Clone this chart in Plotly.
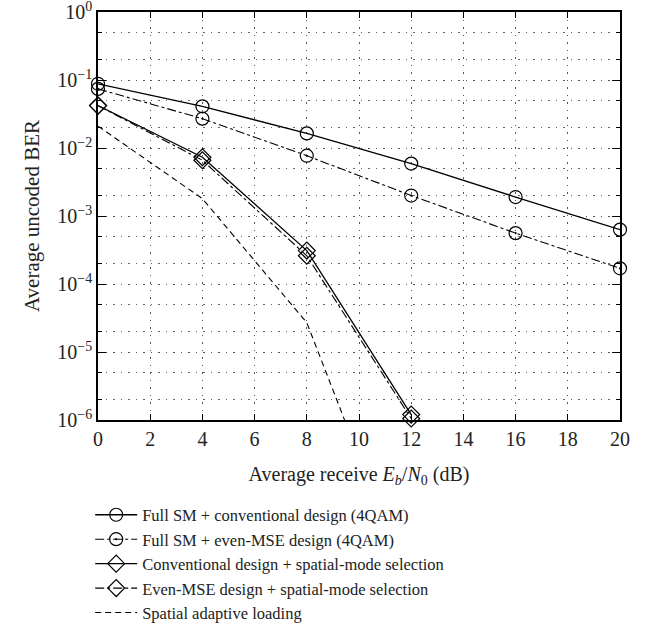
import plotly.graph_objects as go

snr_db = [0, 4, 8, 12, 16, 20]
ber_full_conv = [0.088, 0.041, 0.0164, 0.0059, 0.0019, 0.00063]
ber_full_even = [0.074, 0.027, 0.0077, 0.0020, 0.00056, 0.00017]
snr_sel = [0, 4, 8, 12]
ber_conv_sel = [0.042, 0.0073, 0.00031, 1.2e-6]
ber_even_sel = [0.042, 0.0066, 0.00026, 1.05e-6]
snr_adapt = [0, 4, 8, 12]
ber_adapt = [0.021, 0.0018, 2.7e-5, 3e-9]

names = [
    "Full SM + conventional design (4QAM)",
    "Full SM + even-MSE design (4QAM)",
    "Conventional design + spatial-mode selection",
    "Even-MSE design + spatial-mode selection",
    "Spatial adaptive loading",
]

ytick_vals = [1, 1e-1, 1e-2, 1e-3, 1e-4, 1e-5, 1e-6]
ytick_text = ["10<sup>0</sup>", "10<sup>−1</sup>", "10<sup>−2</sup>", "10<sup>−3</sup>",
              "10<sup>−4</sup>", "10<sup>−5</sup>", "10<sup>−6</sup>"]
xtick_vals = list(range(0, 21, 2))

FONT = "Liberation Serif"
GRID = "1.5px,6px"
fig = go.Figure()
fig.add_trace(go.Scatter(x=snr_db, y=ber_full_conv, name=names[0], mode="lines+markers",
                         line=dict(color="black", width=1.3),
                         marker=dict(symbol="circle-open", size=13, color="black", line=dict(width=1.2)),
                         cliponaxis=False))
fig.add_trace(go.Scatter(x=snr_db, y=ber_full_even, name=names[1], mode="lines+markers",
                         line=dict(color="black", width=1.1, dash="dashdot"),
                         marker=dict(symbol="circle-open-dot", size=13, color="black", line=dict(width=1.2)),
                         cliponaxis=False))
fig.add_trace(go.Scatter(x=snr_sel, y=ber_conv_sel, name=names[2], mode="lines+markers",
                         line=dict(color="black", width=1.3),
                         marker=dict(symbol="diamond-open", size=13, color="black", line=dict(width=1.2)),
                         cliponaxis=False))
fig.add_trace(go.Scatter(x=snr_sel, y=ber_even_sel, name=names[3], mode="lines+markers",
                         line=dict(color="black", width=1.1, dash="dashdot"),
                         marker=dict(symbol="diamond-open", size=13, color="black", line=dict(width=1.2)),
                         cliponaxis=False))
fig.add_trace(go.Scatter(x=snr_adapt, y=ber_adapt, name=names[4], mode="lines",
                         line=dict(color="black", width=1.1, dash="6px,4px")))

fig.update_layout(
    width=653, height=642,
    margin=dict(l=98, r=33, t=12, b=219),
    paper_bgcolor="white", plot_bgcolor="white",
    font=dict(family=FONT, size=19, color="#222"),
    showlegend=True,
    legend=dict(x=-0.015, y=-0.19, xanchor="left", yanchor="top",
                font=dict(family=FONT, size=16.5, color="#222"),
                itemwidth=42,
                bgcolor="rgba(0,0,0,0)", tracegroupgap=0),
    xaxis=dict(
        range=[0, 20], tickmode="array", tickvals=xtick_vals, automargin=False,
        ticks="inside", ticklen=6, tickcolor="black", tickwidth=1,
        showline=True, linecolor="black", linewidth=1.6, mirror="ticks",
        showgrid=True, gridcolor="#555", gridwidth=1, griddash=GRID,
        zeroline=False, ticklabeloverflow="allow",
        title=dict(text="Average receive <i>E<sub>b</sub></i>/<i>N</i><sub>0</sub> (dB)",
                   font=dict(family=FONT, size=20), standoff=18),
        tickfont=dict(family=FONT, size=20),
    ),
    yaxis=dict(
        type="log", range=[-6, 0], tickmode="array", tickvals=ytick_vals, ticktext=ytick_text,
        automargin=False, ticklabeloverflow="allow",
        ticks="inside", ticklen=8, tickcolor="black", tickwidth=1,
        showline=True, linecolor="black", linewidth=1.6, mirror="ticks",
        showgrid=True, gridcolor="#555", gridwidth=1, griddash=GRID,
        minor=dict(ticks="inside", ticklen=4, tickcolor="black", showgrid=True,
                   gridcolor="#666", griddash=GRID, gridwidth=1),
        zeroline=False,
        title=dict(text="Average uncoded BER", font=dict(family=FONT, size=21), standoff=12),
        tickfont=dict(family=FONT, size=20),
    ),
)

fig.write_html("out.html")
